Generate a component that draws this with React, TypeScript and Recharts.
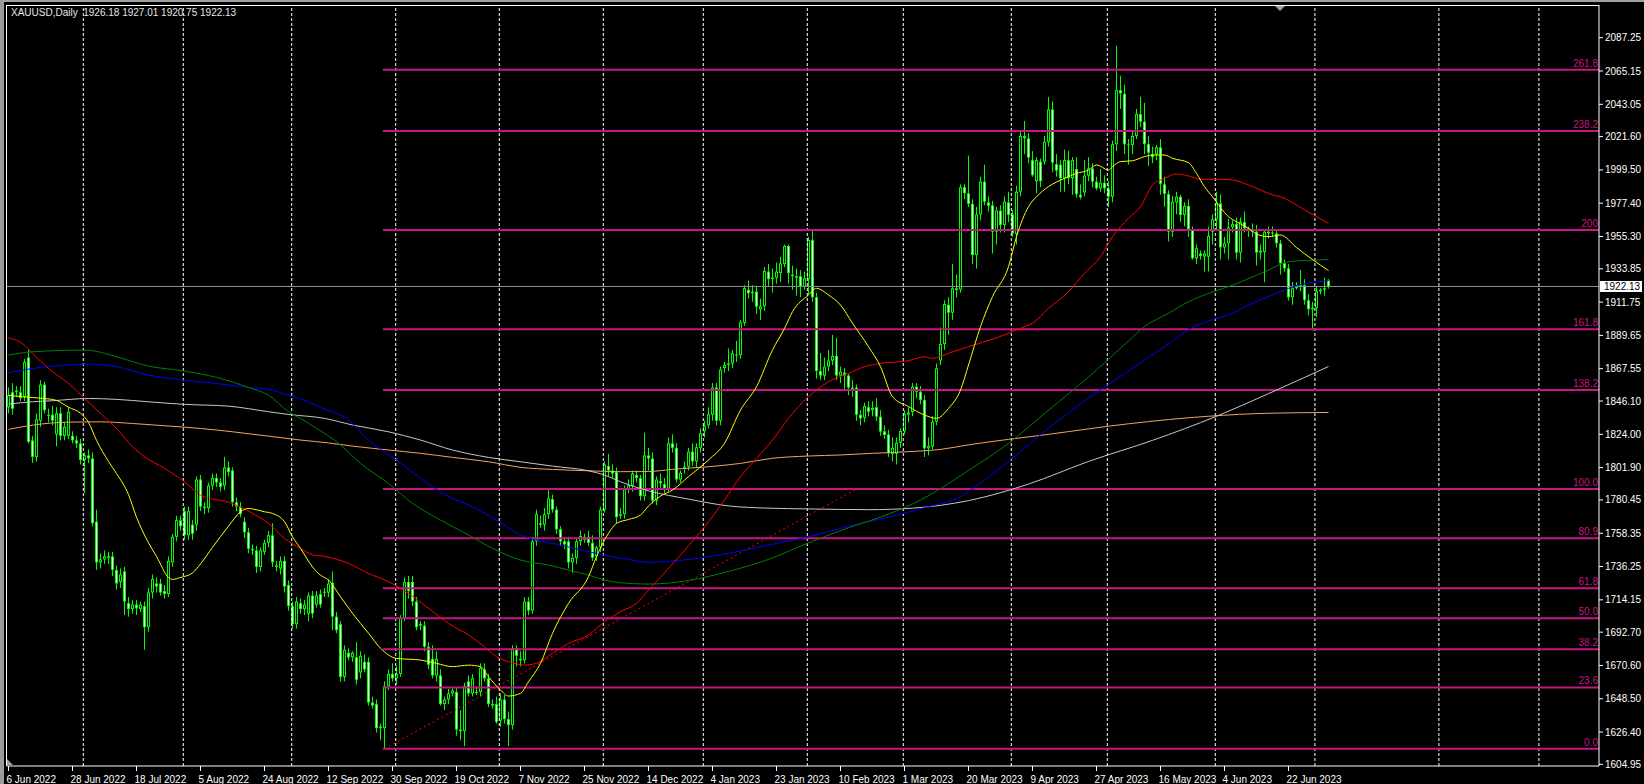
import { ComposedChart, Bar, Line, XAxis, YAxis, ReferenceLine } from "recharts";

// daily candles, bar index 0 = 6 Jun 2022
const opens = [
  1842, 1852, 1852, 1852, 1849, 1875, 1820, 1809, 1833, 1857,
  1837, 1837, 1824, 1838, 1823, 1823, 1823, 1820, 1818, 1807,
  1810, 1808, 1766, 1739, 1741, 1743, 1743, 1734, 1726, 1733,
  1712, 1708, 1711, 1708, 1710, 1696, 1719, 1725, 1725, 1720,
  1718, 1739, 1756, 1767, 1773, 1757, 1764, 1764, 1794, 1776,
  1775, 1790, 1795, 1792, 1790, 1802, 1800, 1779, 1776, 1766,
  1759, 1748, 1747, 1736, 1746, 1752, 1757, 1737, 1735, 1740,
  1724, 1710, 1698, 1712, 1708, 1705, 1717, 1711, 1718, 1719,
  1719, 1725.5, 1703, 1698, 1663, 1679, 1676, 1676, 1666, 1673,
  1673, 1646, 1645, 1629, 1629, 1657, 1665, 1662, 1665, 1702,
  1726, 1726, 1713, 1698, 1697, 1683, 1675, 1664, 1664, 1645,
  1648, 1652, 1653, 1628, 1627, 1660, 1652, 1653, 1653, 1668,
  1662, 1645, 1645, 1634, 1648, 1635, 1631, 1682, 1675, 1674,
  1713, 1707, 1753, 1765, 1764, 1771, 1781, 1774, 1761, 1753,
  1753, 1739, 1742, 1753, 1756, 1756, 1752, 1743, 1749, 1774,
  1803, 1800, 1799, 1771, 1771, 1787, 1790, 1797, 1795, 1783,
  1810, 1808, 1780, 1793, 1791, 1788, 1818, 1815, 1794, 1801,
  1802.5, 1812.5, 1806, 1815, 1826, 1830, 1837, 1855, 1833, 1868,
  1870, 1871, 1877, 1876.6, 1898, 1920, 1917.6, 1918.7, 1907, 1909,
  1932, 1927, 1928, 1931, 1937, 1949, 1930, 1929, 1929, 1922,
  1927, 1953, 1915, 1866, 1863, 1869, 1873, 1876, 1863, 1865,
  1863, 1854, 1855, 1837, 1835, 1842, 1840, 1842, 1835.7, 1826,
  1824, 1811, 1811, 1818.5, 1826, 1837, 1838.8, 1855.6, 1852.3, 1846.8,
  1814.7, 1816, 1832.4, 1873, 1884, 1910, 1904.7, 1920.9, 1920, 1988,
  1984, 1977, 1943, 1970, 1991.7, 1978, 1976, 1958.5, 1972.5, 1963,
  1978, 1970, 1957, 1985, 2022, 2020.5, 2006, 1992, 2005, 2005,
  2018, 2039.7, 2003.4, 2003, 1994, 2006, 1994, 2000, 1983, 1984.6,
  1995.7, 2000.5, 1991.7, 1987.3, 1991, 1987, 1981.7, 2016.5, 2052.5, 2050,
  2016.5, 2016, 2022, 2036.6, 2031.5, 2016.7, 2010, 2010.1, 2014.5, 1990,
  1983.5, 1958.5, 1978, 1981.7, 1969.6, 1975.6, 1960, 1940.8, 1944, 1942,
  1941.9, 1958.5, 1966.7, 1977.3, 1948, 1950.8, 1961.4, 1963.6, 1944.6, 1965,
  1960.7, 1960, 1958.5, 1944.6, 1945, 1958.5, 1957.4, 1957.4, 1950.8, 1937.5,
  1934.2, 1915, 1921, 1922, 1923, 1913, 1907, 1908, 1919, 1920, 1926.18,
];

const highs = [
  1855, 1858, 1856, 1856, 1874, 1880, 1823, 1838, 1860, 1859,
  1841, 1843, 1842, 1842, 1832, 1842, 1826, 1823, 1821, 1812,
  1814, 1812, 1774, 1745, 1747, 1746, 1746, 1737, 1735, 1736,
  1716, 1714, 1714, 1713, 1713, 1722, 1731, 1729, 1728, 1724,
  1743, 1758, 1770, 1770, 1776, 1776, 1767, 1796, 1797, 1779,
  1792, 1798, 1798, 1795, 1809, 1806, 1802, 1782, 1779, 1769,
  1762, 1751, 1750, 1749, 1754, 1760, 1765, 1740, 1743, 1743,
  1727, 1713, 1716, 1715, 1714, 1719, 1720, 1720, 1721, 1722,
  1728, 1733, 1706, 1700, 1684, 1682, 1680, 1686, 1680, 1678,
  1676, 1650, 1648, 1632, 1660, 1668, 1672, 1670, 1704, 1729,
  1730, 1730, 1716, 1700, 1700, 1686, 1684, 1680, 1668, 1650,
  1655, 1656, 1656, 1641, 1659, 1664, 1665, 1656, 1672, 1672,
  1665, 1648, 1650, 1652, 1651, 1640, 1684, 1684, 1680, 1716,
  1716, 1756, 1774, 1770, 1775, 1787, 1784, 1776, 1763, 1756,
  1756, 1745, 1755, 1760, 1758, 1760, 1757, 1750, 1776, 1806,
  1811, 1804, 1802, 1775, 1790, 1794, 1800, 1800, 1797, 1825,
  1815, 1812, 1796, 1798, 1795, 1822, 1824, 1818, 1800, 1806,
  1815, 1818, 1818, 1828, 1833, 1842, 1858, 1858, 1869, 1872,
  1881, 1880, 1886, 1900, 1923, 1926, 1923, 1922, 1914, 1935,
  1937, 1934, 1938, 1942, 1950, 1950, 1936, 1934, 1933, 1932,
  1955, 1960, 1918, 1878, 1875, 1880, 1890, 1888, 1869, 1868,
  1864, 1860, 1857, 1840, 1845, 1846, 1846, 1848, 1840, 1830,
  1827, 1822, 1822, 1828, 1840, 1842, 1858, 1858, 1856, 1850,
  1822, 1836, 1871, 1895, 1913, 1915, 1937, 1930, 1990, 1990,
  2009, 1980, 1975, 1995, 2003, 1982, 1979, 1975, 1976, 1982,
  1985, 1973, 1989, 2025, 2032, 2024, 2012, 2008, 2007, 2022,
  2048, 2045, 2010, 2006, 2013, 2012, 2008, 2008, 1990, 2006,
  2008, 2004, 1995, 2000, 1996, 1992, 2019, 2082, 2062, 2056,
  2020, 2026, 2040, 2048, 2044, 2022, 2015, 2016, 2020, 1995,
  1986, 1982, 1985, 1983, 1978, 1980, 1962, 1950, 1946, 1946,
  1962, 1970, 1985, 1983, 1955, 1967, 1966, 1968, 1968, 1972,
  1962, 1964, 1963, 1950, 1960, 1962, 1962, 1960, 1953, 1940,
  1937, 1925, 1925, 1933, 1927, 1917, 1912, 1922, 1921, 1928, 1927.01,
];

const lows = [
  1838, 1837, 1849, 1846, 1846, 1818, 1805, 1806, 1829, 1838,
  1832, 1830, 1816, 1820, 1820, 1821, 1818, 1815, 1804, 1785,
  1805, 1763, 1734, 1735, 1738, 1738, 1730, 1721, 1722, 1704,
  1703, 1705, 1704, 1706, 1681, 1693, 1715, 1719, 1717, 1715,
  1716, 1736, 1753, 1760, 1754, 1754, 1754, 1760, 1773, 1771,
  1772, 1787, 1789, 1786, 1787, 1796, 1776, 1773, 1769, 1755,
  1745, 1744, 1732, 1733, 1744, 1749, 1736, 1733, 1731, 1719,
  1707, 1695, 1695, 1705, 1704, 1700, 1702, 1709, 1709, 1716,
  1716, 1694, 1692, 1660, 1660, 1674, 1673, 1658, 1662, 1666,
  1644, 1642, 1626, 1621, 1615, 1654, 1660, 1658, 1663, 1700,
  1715, 1710, 1694, 1694, 1680, 1668, 1662, 1660, 1644, 1641,
  1645, 1650, 1624, 1621, 1617, 1650, 1650, 1651, 1650, 1660,
  1643, 1642, 1632, 1630, 1632, 1617, 1628, 1670, 1670, 1672,
  1704, 1705, 1750, 1762, 1760, 1768, 1772, 1758, 1750, 1748,
  1735, 1732, 1738, 1750, 1752, 1750, 1740, 1740, 1746, 1772,
  1796, 1795, 1765, 1768, 1768, 1785, 1786, 1792, 1780, 1780,
  1800, 1778, 1777, 1787, 1785, 1786, 1812, 1792, 1792, 1798,
  1800, 1803, 1802, 1812, 1822, 1828, 1833, 1830, 1830, 1865,
  1866, 1868, 1872, 1874, 1896, 1914, 1912, 1904, 1900, 1906,
  1922, 1918, 1924, 1925, 1935, 1924, 1920, 1916, 1915, 1920,
  1917, 1912, 1861, 1860, 1860, 1866, 1870, 1860, 1858, 1853,
  1850, 1849, 1833, 1830, 1832, 1836, 1836, 1833, 1823, 1821,
  1809, 1806, 1804, 1815, 1824, 1832, 1836, 1848, 1844, 1809,
  1810, 1814, 1830, 1870, 1880, 1890, 1900, 1915, 1918, 1980,
  1975, 1937, 1934, 1966, 1976, 1972, 1944, 1950, 1958, 1958,
  1965, 1955, 1950, 1982, 2010, 2004, 1995, 1984, 1988, 2003,
  2015, 1998, 1995, 1985, 1985, 1990, 1983, 1981, 1980, 1982,
  1992, 1988, 1986, 1985, 1984, 1975, 1978, 2012, 2040, 2010,
  2003, 2010, 2020, 2028, 2010, 2002, 2004, 2006, 1983, 1975,
  1952, 1955, 1970, 1965, 1962, 1955, 1940, 1937, 1940, 1932,
  1932, 1950, 1960, 1940, 1944, 1940, 1958, 1940, 1938, 1958,
  1955, 1955, 1936, 1940, 1925, 1954, 1955, 1948, 1930, 1932,
  1912.7, 1910, 1920, 1919, 1910, 1903, 1893, 1902, 1917, 1916, 1920.75,
];

const closes = [
  1850, 1841, 1853, 1848, 1872, 1819, 1809, 1834, 1857, 1840,
  1837, 1833, 1838, 1823, 1829, 1839, 1820, 1818, 1807, 1810,
  1808, 1765, 1739, 1741, 1743, 1742, 1734, 1725, 1731, 1713,
  1708, 1711, 1708.5, 1711, 1696, 1719, 1728, 1723, 1719, 1718,
  1740, 1756, 1767, 1763, 1757, 1773, 1758, 1794, 1776, 1775,
  1790, 1795, 1792, 1789, 1802, 1799, 1779, 1776, 1771, 1759,
  1748, 1747, 1736, 1747, 1752, 1757, 1739, 1736, 1740, 1723,
  1710, 1698, 1713, 1708, 1711, 1717, 1705, 1717, 1711, 1719.5,
  1725, 1703, 1694, 1663, 1681, 1676, 1679, 1661, 1677, 1668,
  1646, 1644, 1629, 1630, 1657, 1665, 1662, 1665, 1702, 1726,
  1720, 1713, 1696, 1697, 1683, 1671, 1664, 1675, 1645, 1648,
  1652, 1654, 1628, 1627, 1657, 1652, 1662, 1653, 1669, 1662,
  1645, 1644, 1633, 1648, 1635, 1631, 1682, 1677, 1674, 1713,
  1707, 1753, 1771, 1764, 1771, 1781.5, 1774, 1761, 1753, 1751,
  1739, 1742, 1753, 1756.5, 1754, 1752, 1742, 1749, 1774, 1804,
  1800, 1798, 1769, 1770, 1787.5, 1790, 1798, 1795, 1783, 1810,
  1808, 1780, 1794, 1791.5, 1788, 1818, 1815, 1794, 1798.5, 1802.5,
  1812.5, 1806, 1815.4, 1824.6, 1829.8, 1837.3, 1855, 1833, 1867, 1870,
  1871, 1877.8, 1876.6, 1898.3, 1921, 1917.6, 1918.7, 1908.7, 1909, 1932.4,
  1927, 1928, 1932, 1937.5, 1949, 1931, 1929, 1928, 1922, 1927.5,
  1953, 1915, 1866, 1863, 1869, 1873, 1876, 1863, 1865.6, 1863,
  1855, 1855, 1837, 1834.6, 1842.8, 1839, 1841.5, 1835.7, 1825.8, 1823.5,
  1811.4, 1815, 1818.5, 1826.2, 1837.3, 1838.5, 1855.6, 1852.3, 1846.8, 1814.7,
  1816.3, 1832.4, 1867.8, 1884, 1910.5, 1904.7, 1920.9, 1919.8, 1988, 1984,
  1977, 1943, 1970, 1991.7, 1978.4, 1975.6, 1958.5, 1972.5, 1962.9, 1978.4,
  1969.6, 1957.4, 1985, 2022, 2020.5, 2007.6, 1996, 2006, 1992, 2018.2,
  2039.7, 2004.3, 1999, 1994, 2006, 1994, 2006, 1983.3, 1981.3, 1995.7,
  2000.5, 1991.7, 1987.3, 1991, 1987.3, 1981.7, 2016.5, 2052.5, 2050.3, 2016.5,
  2016, 2022, 2036.6, 2031.5, 2016.7, 2010.9, 2007.9, 2014.5, 1990.2, 1983.5,
  1958.5, 1978.4, 1981.7, 1969.6, 1975.6, 1960.1, 1940.8, 1947.5, 1942.4, 1944,
  1955.6, 1966.7, 1977.3, 1948.1, 1950.8, 1961.4, 1963.6, 1944.6, 1965.1, 1960.7,
  1960.1, 1958.5, 1944.6, 1946, 1958.5, 1957.4, 1958, 1950.8, 1937.5, 1934.2,
  1915, 1921, 1922, 1923, 1913, 1907, 1908, 1919, 1920, 1921, 1922.13,
];

// moving averages as [bar index, price]
const maYellow: [number, number][] = [
  [0, 1850], [3, 1849], [9, 1847.8], [12, 1846.5], [15, 1842], [18, 1838], [20, 1832], [22, 1820],
  [25, 1806], [27, 1798], [30, 1784], [32, 1769], [35, 1752], [37, 1743], [40, 1729], [41, 1727.7],
  [43, 1729], [46, 1732], [48, 1738], [51, 1749], [55, 1763], [58, 1772.6], [60, 1774.8], [61, 1774.5],
  [64, 1772.6], [66, 1771.5], [69, 1766], [71, 1756], [73, 1748.3], [76, 1736], [78, 1730.5], [80, 1727.3],
  [83, 1716.2], [86, 1705.2], [90, 1692], [93, 1682], [97, 1675.3], [103, 1674.2], [107, 1672], [111, 1669.8],
  [115, 1670.8], [118, 1669.8], [120, 1663.1], [123, 1654.3], [125, 1650.3], [128, 1652.1], [130, 1659.8],
  [133, 1672], [136, 1691.9], [140, 1711.8], [145, 1729.5], [147, 1742.8], [150, 1758.3], [152, 1764.9],
  [155, 1767.5], [158, 1770.4], [160, 1776.4], [163, 1783], [166, 1787], [170, 1795.9], [175, 1807],
  [179, 1818], [183, 1840.1], [187, 1855.6], [191, 1880], [194, 1894.3], [196, 1905.4], [200, 1916.5],
  [202, 1920.9], [205, 1916.5], [208, 1909.8], [211, 1897.7], [215, 1882.2], [218, 1868.9], [221, 1849],
  [225, 1842.4], [229, 1836.8], [232, 1834.6], [235, 1841.2], [238, 1853.4], [240, 1870], [243, 1895.5],
  [246, 1915.4], [250, 1935.3], [252, 1955.2], [255, 1975.1], [257, 1981.7], [260, 1988.4], [264, 1993.9],
  [267, 1997.2], [270, 1999.4], [272, 2002.8], [275, 1999.4], [276, 2001.7], [278, 2005], [281, 2005.6],
  [284, 2008.3], [286, 2009.4], [289, 2009.4], [291, 2007.2], [295, 2004.3], [297, 1997.2], [299, 1988.4],
  [301, 1981.7], [305, 1968.5], [307, 1965.1], [310, 1960.7], [312, 1957], [315, 1955.2], [318, 1956.3],
  [322, 1948], [326, 1940], [330, 1932.7],
];

const maRed: [number, number][] = [
  [0, 1888], [4, 1883.2], [6, 1877.7], [10, 1867.7], [15, 1857.8], [19, 1847.8], [23, 1837.9], [27, 1827.9],
  [31, 1815.8], [34, 1809.1], [39, 1801.4], [44, 1792.5], [48, 1783.7], [56, 1778.1], [61, 1771.5],
  [65, 1764.9], [69, 1754.9], [73, 1748.3], [76, 1744], [79, 1743], [85, 1738.3], [90, 1731.7], [95, 1726.2],
  [100, 1718.4], [105, 1708.5], [110, 1698.5], [115, 1690.8], [119, 1683], [122, 1676.4], [125, 1673.1],
  [129, 1670.9], [132, 1672], [136, 1678.6], [140, 1685.2], [145, 1690.8], [149, 1699.6], [153, 1706.3],
  [157, 1711.8], [160, 1720.6], [165, 1735], [170, 1750], [175, 1766], [179, 1780.4], [183, 1795.9],
  [187, 1808.1], [191, 1820.2], [195, 1834.6], [200, 1849], [202, 1853.4], [205, 1858.9], [210, 1864.5],
  [214, 1868.9], [218, 1871.1], [225, 1872.9], [229, 1875.5], [231, 1874.4], [235, 1877.8], [240, 1882.2],
  [247, 1888], [254, 1895.5], [256, 1897.7], [260, 1907.6], [265, 1918.7], [269, 1930.9], [273, 1941.9],
  [276, 1955.2], [280, 1967.4], [283, 1975.1], [286, 1989.5], [289, 1993.9], [292, 1996.8], [295, 1995.5],
  [298, 1993.3], [302, 1993.3], [306, 1992.8], [310, 1989.5], [313, 1986.2], [316, 1982.9], [318, 1981.7],
  [324, 1973], [330, 1964],
];

const maGreen: [number, number][] = [
  [0, 1876.6], [6, 1878.8], [19, 1879.9], [21, 1879.5], [27, 1875.5], [35, 1869.3], [44, 1866], [52, 1861.8],
  [60, 1855.1], [65, 1850], [70, 1839], [73, 1834.6], [77, 1827.9], [80, 1823], [83, 1816.9], [88, 1804.7],
  [95, 1791.4], [101, 1778.2], [108, 1767.1], [115, 1757.2], [121, 1748.3], [128, 1740.6], [135, 1737.2],
  [140, 1733.9], [145, 1730.6], [149, 1727.3], [153, 1725.5], [160, 1724.6], [170, 1727], [180, 1733],
  [190, 1741], [200, 1752], [210, 1762], [220, 1771], [228, 1780.4], [240, 1800], [250, 1818], [260, 1840],
  [270, 1862], [280, 1886], [284, 1895.5], [290, 1904.3], [295, 1912], [301, 1918.5], [306, 1923],
  [311, 1928.5], [315, 1933], [318, 1937], [320, 1938.6], [325, 1939.5], [330, 1940],
];

const maBlue: [number, number][] = [
  [0, 1864.9], [6, 1867.7], [15, 1870], [20, 1870.6], [27, 1868.9], [35, 1863.3], [44, 1860], [52, 1857.8],
  [60, 1855.1], [65, 1853.8], [70, 1850], [75, 1845.6], [78, 1841.9], [85, 1833.5], [90, 1820.2],
  [97, 1806.9], [103, 1794.8], [110, 1782.6], [116, 1776], [123, 1765.3], [128, 1757.2], [132, 1753.8],
  [138, 1750.5], [145, 1746.1], [150, 1743.2], [155, 1741], [160, 1739], [170, 1741], [180, 1745],
  [190, 1750.5], [200, 1756], [210, 1763], [220, 1769], [230, 1776], [238, 1782.6], [240, 1786],
  [250, 1806], [260, 1828], [270, 1848], [280, 1866], [290, 1884], [296, 1895], [301, 1900],
  [306, 1904.3], [310, 1909.8], [315, 1915.4], [318, 1918.7], [320, 1920.9], [330, 1926],
];

const maSilver: [number, number][] = [
  [0, 1844.1], [6, 1845.6], [11, 1846.3], [20, 1847.8], [27, 1847.2], [35, 1845.6], [44, 1843.9],
  [55, 1842.7], [65, 1839], [70, 1837.2], [79, 1834.6], [86, 1830.2], [95, 1825.7], [103, 1820.2],
  [111, 1813.6], [120, 1808.7], [128, 1805.8], [136, 1802.9], [145, 1799.8], [149, 1797], [153, 1792.5],
  [157, 1788.8], [160, 1786.5], [170, 1781], [180, 1776.5], [190, 1775], [200, 1774.5], [215, 1774],
  [226, 1775], [240, 1780], [255, 1791], [270, 1806], [286, 1820], [302, 1836], [315, 1851], [330, 1869],
];

const maOrange: [number, number][] = [
  [0, 1827.3], [6, 1830.1], [15, 1832.1], [23, 1832.3], [31, 1831.2], [40, 1829.5], [48, 1827.9],
  [56, 1825.7], [65, 1822.8], [73, 1820.2], [80, 1818.3], [86, 1816.2], [95, 1813.6], [103, 1811.4],
  [111, 1808.7], [120, 1805.8], [128, 1802.1], [136, 1800.7], [145, 1799.8], [153, 1799.2], [160, 1799.3],
  [166, 1800.8], [175, 1802.5], [183, 1804.7], [191, 1808.1], [200, 1809.6], [208, 1810.3], [216, 1811.4],
  [225, 1812.5], [233, 1814], [240, 1817], [260, 1824], [280, 1831], [300, 1836], [315, 1838], [330, 1838.5],
];

const dateTicks = [0, 16, 32, 48, 64, 80, 96, 112, 128, 144, 160, 176, 192, 208, 224, 240, 256, 272, 288, 304, 320];
const dateLabels = [
  "6 Jun 2022", "28 Jun 2022", "18 Jul 2022", "5 Aug 2022", "24 Aug 2022", "12 Sep 2022", "30 Sep 2022",
  "19 Oct 2022", "7 Nov 2022", "25 Nov 2022", "14 Dec 2022", "4 Jan 2023", "23 Jan 2023", "10 Feb 2023",
  "1 Mar 2023", "20 Mar 2023", "9 Apr 2023", "27 Apr 2023", "16 May 2023", "4 Jun 2023", "22 Jun 2023",
];
const monthLines = [18.7, 43.7, 70.8, 96.8, 122.7, 148.7, 173.7, 199.7, 223.7, 250.7, 274.7, 301.7, 326.6, 357.6, 382.6];

const priceTicks = [
  2087.25, 2065.15, 2043.05, 2021.6, 1999.5, 1977.4, 1955.3, 1933.85, 1911.75, 1889.65, 1867.55, 1846.1,
  1824.0, 1801.9, 1780.45, 1758.35, 1736.25, 1714.15, 1692.7, 1670.6, 1648.5, 1626.4, 1604.95,
];

const fibNames = ["0.0", "23.6", "38.2", "50.0", "61.8", "80.9", "100.0", "138.2", "161.8", "200", "238.2", "261.8"];
const fibPrices = [1615.3, 1656.0, 1681.3, 1701.9, 1721.8, 1755.0, 1787.7, 1853.4, 1893.7, 1959.6, 2025.3, 2066.0];
const fibStart = 93.6;
const fibTrend = [
  { x: 94, y: 1615.3 },
  { x: 212, y: 1787.7 },
];
const lastPrice = 1922.13;

const LIME = "#00ff00";
const FONT = "'Liberation Sans', Arial, sans-serif";
const X_DOMAIN = [-0.375, 397.625];
const Y_DOMAIN = [1603.86, 2108.96];

const rows: any[] = closes.map((c, i) => ({
  i,
  o: opens[i],
  h: highs[i],
  l: lows[i],
  c,
  range: [lows[i], highs[i]],
}));

const maSeries = [
  { key: "orange", knots: maOrange, color: "#f4a460" },
  { key: "silver", knots: maSilver, color: "#c8c8c8" },
  { key: "blue", knots: maBlue, color: "#0000ff" },
  { key: "green", knots: maGreen, color: "#008000" },
  { key: "red", knots: maRed, color: "#ff0000" },
  { key: "yellow", knots: maYellow, color: "#ffff00" },
];
maSeries.forEach((s) => s.knots.forEach(([i, v]) => (rows[i][s.key] = v)));

const Candle = (props: any) => {
  const { x, y, width, height, payload } = props;
  if (!payload) return null;
  const { o, h, l, c } = payload;
  const k = h > l ? height / (h - l) : 0;
  const cx = Math.round(x + width / 2 - 0.5) + 0.5;
  const top = y + (h - Math.max(o, c)) * k;
  const bot = y + (h - Math.min(o, c)) * k;
  const bh = Math.max(bot - top, 1);
  return (
    <g>
      <rect x={cx - 0.5} y={y} width={1} height={Math.max(height, 1)} fill={LIME} />
      <rect x={cx - 1.5} y={top} width={3} height={bh} fill={LIME} />
      {bh > 2 && (
        <rect x={cx - 0.5} y={top + 1} width={1} height={bh - 2} fill={c >= o ? "#000" : "#fff"} />
      )}
    </g>
  );
};

const DateTick = (props: any) => {
  const { x, y, payload } = props;
  const idx = dateTicks.indexOf(payload.value);
  return (
    <text x={x - 2} y={y + 10} fill="#fff" fontSize={10} fontFamily={FONT}>
      {dateLabels[idx]}
    </text>
  );
};

const fibLabel = (name: string) => (p: any) => {
  const vb = p.viewBox;
  if (!vb) return null;
  return (
    <text x={vb.x + vb.width - 1} y={vb.y - 3} textAnchor="end" fill="#c71585" fontSize={10} fontFamily={FONT}>
      {name}
    </text>
  );
};

const priceTag = (p: any) => {
  const vb = p.viewBox;
  if (!vb) return null;
  const right = vb.x + vb.width;
  return (
    <g>
      <rect x={right + 1} y={vb.y - 5.5} width={42} height={11} fill="#fff" />
      <text x={right + 5} y={vb.y + 3.5} fill="#000" fontSize={10} fontFamily={FONT}>
        {lastPrice.toFixed(2)}
      </text>
    </g>
  );
};

const App = () => {
  return (
    <div style={{ position: "relative", width: 1644, height: 784, background: "#000", overflow: "hidden" }}>
      <style>{"body{margin:0;background:#000}"}</style>
      <ComposedChart
        width={1644}
        height={784}
        data={rows}
        margin={{ top: 5, right: 0, bottom: 0, left: 7 }}
      >
        <XAxis
          dataKey="i"
          type="number"
          domain={X_DOMAIN}
          allowDataOverflow
          ticks={dateTicks}
          interval={0}
          tick={<DateTick />}
          tickSize={5}
          tickLine={{ stroke: "#fff" }}
          axisLine={{ stroke: "#fff" }}
          height={18}
        />
        <YAxis
          type="number"
          orientation="right"
          domain={Y_DOMAIN}
          allowDataOverflow
          ticks={priceTicks}
          interval={0}
          width={45}
          tickSize={4}
          tickMargin={2}
          tickFormatter={(v: number) => v.toFixed(2)}
          tick={{ fill: "#fff", fontSize: 10, fontFamily: FONT }}
          tickLine={{ stroke: "#fff" }}
          axisLine={{ stroke: "#fff" }}
        />

        {monthLines.map((m) => (
          <ReferenceLine key={"m" + m} x={m} stroke="#fff" strokeDasharray="3 2" strokeWidth={1} />
        ))}

        <ReferenceLine y={lastPrice} stroke="#8c8c8c" strokeWidth={1} label={priceTag} />

        {fibPrices.map((p, k) => (
          <ReferenceLine
            key={"f" + k}
            segment={[
              { x: fibStart, y: p },
              { x: X_DOMAIN[1], y: p },
            ]}
            stroke="#c71585"
            strokeWidth={2}
            label={fibLabel(fibNames[k])}
          />
        ))}
        <ReferenceLine segment={fibTrend} stroke="#ff0000" strokeDasharray="2 3" strokeWidth={1} />

        <Bar dataKey="range" barSize={3} shape={<Candle />} isAnimationActive={false} />

        {maSeries.map((s) => (
          <Line
            key={s.key}
            dataKey={s.key}
            type="monotone"
            stroke={s.color}
            strokeWidth={1}
            dot={false}
            activeDot={false}
            connectNulls
            isAnimationActive={false}
          />
        ))}
      </ComposedChart>

      {/* frame, window edges and MT4 markers */}
      <div
        style={{
          position: "absolute",
          left: 6,
          top: 5,
          width: 1593,
          height: 761,
          borderTop: "1px solid #fff",
          borderLeft: "1px solid #fff",
          boxSizing: "border-box",
          pointerEvents: "none",
        }}
      />
      <div style={{ position: "absolute", left: 0, top: 0, width: 1644, height: 2, background: "#a0a0a0" }} />
      <div style={{ position: "absolute", left: 0, top: 0, width: 4, height: 784, background: "#9a9a9a" }} />
      <svg style={{ position: "absolute", left: 0, top: 0 }} width={1644} height={784}>
        <polygon points="1275,6 1285,6 1280,11" fill="#a0a0a0" />
        <polygon points="7,759 7,765 13,765" fill="#a0a0a0" />
      </svg>
      <div
        style={{
          position: "absolute",
          left: 11,
          top: 7,
          color: "#e6e6e6",
          fontSize: 10,
          fontFamily: FONT,
          whiteSpace: "pre",
        }}
      >
        {"XAUUSD,Daily  1926.18 1927.01 1920.75 1922.13"}
      </div>
    </div>
  );
};

export default App;
